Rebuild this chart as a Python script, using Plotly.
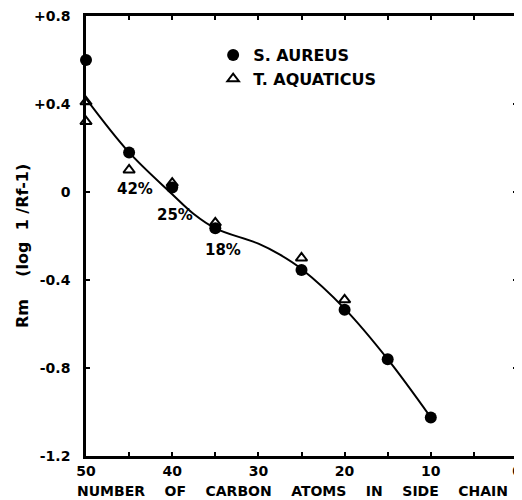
import plotly.graph_objects as go

# Data
aureus_x = [50, 45, 40, 35, 25, 20, 15, 10]
aureus_y = [0.60, 0.18, 0.02, -0.165, -0.355, -0.535, -0.76, -1.025]

aquaticus_x = [50, 50, 45, 40, 35, 25, 20]
aquaticus_y = [0.41, 0.32, 0.10, 0.04, -0.14, -0.30, -0.49]

curve_x = [50, 45, 40, 37.5, 35, 30, 27.5, 25, 20, 15, 10]
curve_y = [0.425, 0.18, -0.01, -0.10, -0.165, -0.235, -0.285, -0.35, -0.53, -0.76, -1.025]

pct_labels = ["42%", "25%", "18%"]
pct_x = [44.3, 39.7, 34.1]
pct_y = [0.014, -0.105, -0.264]

y_tickvals = [0.8, 0.4, 0, -0.4, -0.8, -1.2]
y_ticktext = ["+0.8", "+0.4", "0", "-0.4", "-0.8", "-1.2"]
x_tickvals = [50, 45, 40, 35, 30, 25, 20, 15, 10, 5, 0]
x_ticktext = ["50", "", "40", "", "30", "", "20", "", "10", "", "0"]

FONT = "DejaVu Sans"

fig = go.Figure()
fig.add_trace(go.Scatter(
    x=curve_x, y=curve_y, mode="lines",
    line=dict(color="black", width=2, shape="spline", smoothing=1.0),
    showlegend=False, hoverinfo="skip", cliponaxis=False))
fig.add_trace(go.Scatter(
    x=aureus_x, y=aureus_y, mode="markers", name="S. AUREUS",
    marker=dict(symbol="circle", size=12, color="black"),
    cliponaxis=False))
fig.add_trace(go.Scatter(
    x=aquaticus_x, y=aquaticus_y, mode="markers", name="T. AQUATICUS",
    marker=dict(symbol="triangle-up-open", size=10, color="black",
                line=dict(width=2, color="black")),
    cliponaxis=False))

for t, x, y in zip(pct_labels, pct_x, pct_y):
    fig.add_annotation(x=x, y=y, text=t, showarrow=False,
                       font=dict(family=FONT, size=15, color="black", weight="bold"))

NB = "\u00a0"
xtitle = (NB * 4).join(["NUMBER", "OF", "CARBON", "ATOMS", "IN", "SIDE", "CHAIN"])
fig.add_annotation(xref="paper", yref="paper", x=0.5, y=0, xshift=-9, yshift=-35,
                   xanchor="center", yanchor="middle",
                   text=xtitle, showarrow=False,
                   font=dict(family=FONT, size=14, color="black", weight="bold"))
fig.add_annotation(xref="paper", yref="paper", x=0, y=0.5, xshift=-64, yshift=-10,
                   xanchor="center", yanchor="middle",
                   text="Rm" + NB * 4 + "(log" + NB * 2 + "1" + NB + "/Rf-1)", textangle=-90,
                   showarrow=False,
                   font=dict(family=FONT, size=16, color="black", weight="bold"))

axis_common = dict(showgrid=False, zeroline=False, showline=True, linecolor="black",
                   linewidth=2.5, mirror="ticks", ticks="inside", ticklen=4,
                   tickwidth=2, tickcolor="black", automargin=False,
                   ticklabeloverflow="allow",
                   tickfont=dict(family=FONT, size=14, color="black", weight="bold"))

fig.update_xaxes(range=[50, 0], tickmode="array", tickvals=x_tickvals,
                 ticktext=x_ticktext, ticklabelstandoff=0, **axis_common)
fig.update_yaxes(range=[-1.2, 0.8], tickmode="array", tickvals=y_tickvals,
                 ticktext=y_ticktext, ticklabelstandoff=10, **axis_common)

# page body adds an 8px margin, so the figure is sized to fit the window
fig.update_layout(
    width=514, height=492,
    margin=dict(l=78, r=5, t=8, b=44, autoexpand=False),
    paper_bgcolor="white", plot_bgcolor="white",
    legend=dict(x=0.295, y=0.95, xanchor="left", yanchor="top",
                font=dict(family=FONT, size=16, color="black", weight="bold"),
                bgcolor="rgba(0,0,0,0)", itemwidth=30, tracegroupgap=0),
)

fig.write_html("out.html")
